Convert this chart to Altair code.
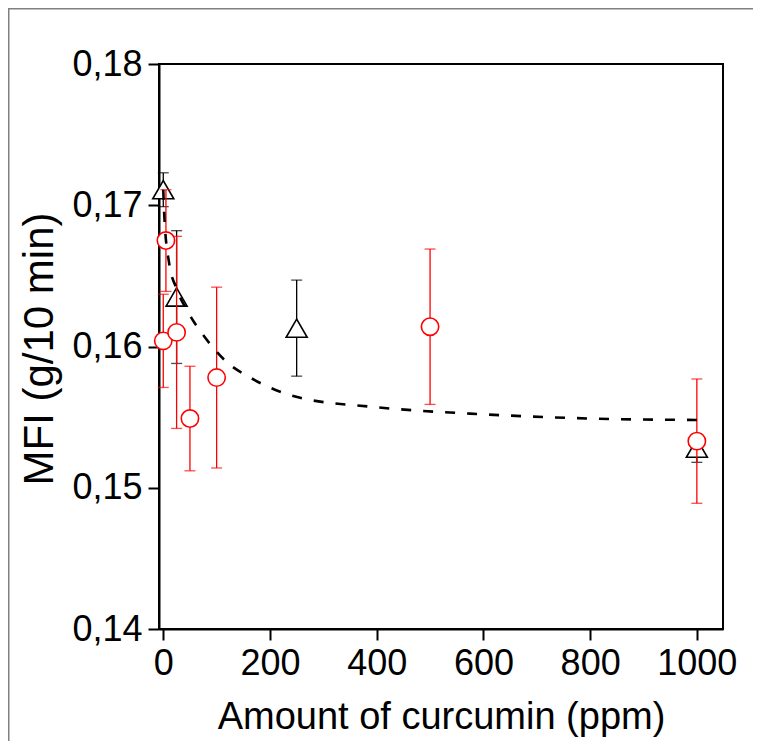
import altair as alt
import pandas as pd

# Red circles series
red_x = [0, 5, 25, 50, 100, 500, 1000]
red_y = [0.1604, 0.1675, 0.1610, 0.1549, 0.1578, 0.1614, 0.1533]
red_err = [0.0033, 0.0036, 0.0068, 0.0037, 0.0064, 0.0055, 0.0044]

# Black triangles series
blk_x = [0, 25, 250, 1000]
blk_y = [0.1711, 0.1635, 0.1613, 0.1528]
blk_err = [0.0012, 0.0047, 0.0034, 0.0010]

# Dashed fit curve
fit_x = [0, 2, 11, 25, 47, 79, 119, 163, 253, 400, 600, 800, 1000]
fit_y = [0.1711, 0.1692, 0.1659, 0.1641, 0.1624, 0.1606, 0.1589, 0.1578,
         0.1564, 0.1557, 0.1552, 0.1549, 0.1548]

x_ticks = [0, 200, 400, 600, 800, 1000]
y_ticks = [0.14, 0.15, 0.16, 0.17, 0.18]

red = pd.DataFrame({"x": red_x, "y": red_y,
                    "lo": [a - b for a, b in zip(red_y, red_err)],
                    "hi": [a + b for a, b in zip(red_y, red_err)]})
blk = pd.DataFrame({"x": blk_x, "y": blk_y,
                    "lo": [a - b for a, b in zip(blk_y, blk_err)],
                    "hi": [a + b for a, b in zip(blk_y, blk_err)]})
fit = pd.DataFrame({"x": fit_x, "y": fit_y})

W, H = 564, 565
PL, PT, PR, PB = 151, 56, 30, 112
FONT = "Liberation Sans"

xs = alt.Scale(domain=[-8, 1049], nice=False, zero=False)
ys = alt.Scale(domain=[0.14, 0.18], nice=False, zero=False)

xaxis = alt.Axis(values=x_ticks, title="Amount of curcumin (ppm)", format="d",
                 titleX=W / 2, titleY=99, titleBaseline="alphabetic", titleAlign="center",
                 titleFontSize=38)
yaxis = alt.Axis(values=y_ticks, title="MFI (g/10 min)",
                 labelExpr="replace(format(datum.value, '.2f'), '.', ',')",
                 titleX=-120, titleY=H / 2 + 2, titleBaseline="middle", titleAlign="center",
                 titleAngle=270, titleFontSize=42)

X = alt.X("x:Q", scale=xs, axis=xaxis)
Y = alt.Y("y:Q", scale=ys, axis=yaxis)

one = pd.DataFrame({"k": [0]})
border_left = alt.Chart(one).mark_rule(color="#808080", strokeWidth=1.5).encode(
    x=alt.value(-PL + 0.75), y=alt.value(-PT), y2=alt.value(H + PB))
border_top = alt.Chart(one).mark_rule(color="#808080", strokeWidth=1.5).encode(
    x=alt.value(-PL), x2=alt.value(W + PR), y=alt.value(-PT + 0.75))

def bars(df, color):
    base = alt.Chart(df)
    r = base.mark_rule(color=color, strokeWidth=1.3).encode(
        x=alt.X("x:Q", scale=xs, axis=xaxis), y=alt.Y("lo:Q", scale=ys, axis=yaxis), y2="hi:Q")
    t1 = base.mark_tick(color=color, orient="horizontal", size=11, thickness=1.3).encode(
        x=alt.X("x:Q", scale=xs), y=alt.Y("lo:Q", scale=ys))
    t2 = base.mark_tick(color=color, orient="horizontal", size=11, thickness=1.3).encode(
        x=alt.X("x:Q", scale=xs), y=alt.Y("hi:Q", scale=ys))
    return r + t1 + t2

blk_pts = alt.Chart(blk).mark_point(shape="triangle-up", size=441, filled=True,
                                    fill="white", stroke="black", strokeWidth=1.6,
                                    opacity=1).encode(x=X, y=Y)
red_pts = alt.Chart(red).mark_point(shape="circle", size=300, filled=True,
                                    fill="white", stroke="#ff0000", strokeWidth=1.6,
                                    opacity=1).encode(x=X, y=Y)
fit_line = alt.Chart(fit).mark_line(color="black", strokeWidth=2.6, strokeDash=[10, 12],
                                    interpolate="monotone").encode(x=X, y=Y)

chart = alt.layer(
    border_left, border_top,
    bars(blk, "black"), blk_pts,
    bars(red, "#ff0000"), red_pts,
    fit_line,
).properties(
    width=W, height=H,
    padding={"left": PL, "top": PT, "right": PR, "bottom": PB},
    autosize=alt.AutoSizeParams(type="none"),
    background="white",
).configure_view(
    stroke="black", strokeWidth=2
).configure_axis(
    grid=False, domain=True, domainColor="black", domainWidth=2,
    ticks=True, tickColor="black", tickWidth=2, tickSize=11,
    labelFont=FONT, labelFontSize=36, labelColor="black", labelPadding=6,
    titleFont=FONT, titleFontWeight="normal", titleColor="black",
)

chart.save("out.html", embed_options={"renderer": "svg", "actions": False})
